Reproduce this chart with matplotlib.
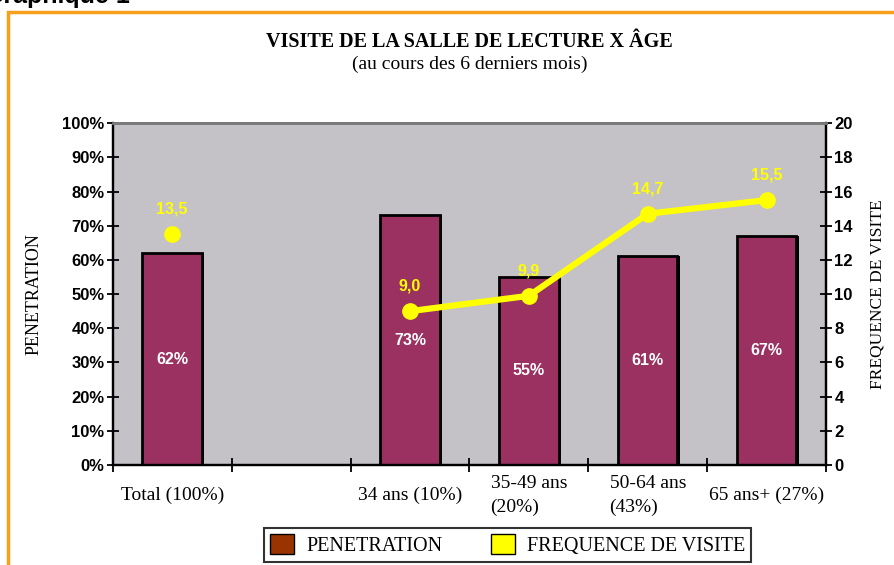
import numpy as np
import matplotlib
matplotlib.use("Agg")
import matplotlib.pyplot as plt
from matplotlib.patches import Rectangle, Patch

categories = ["Total (100%)", "", "34 ans (10%)", "35-49 ans\n(20%)", "50-64 ans\n(43%)", "65 ans+ (27%)"]
penetration = [62, np.nan, 73, 55, 61, 67]
frequence = [13.5, np.nan, 9.0, 9.9, 14.7, 15.5]
y_left_ticks = [0, 10, 20, 30, 40, 50, 60, 70, 80, 90, 100]
y_right_ticks = [0, 2, 4, 6, 8, 10, 12, 14, 16, 18, 20]

serif = "Liberation Serif"
sans = "Liberation Sans"

fig = plt.figure(figsize=(8.95, 5.65), dpi=100)
ax = fig.add_axes([0.126, 0.177, 0.797, 0.605])
ax2 = ax.twinx()

x = np.arange(len(categories))

# bars, with a small dark shadow on the right side
for xi, v in zip(x, penetration):
    if np.isnan(v):
        continue
    ax.bar(xi + 0.02, v, width=0.5, color="black", linewidth=0, zorder=1.5)
    ax.bar(xi, v, width=0.5, color="#9B3160", edgecolor="black", linewidth=2, zorder=2)
    ax.text(xi, v / 2, "%d%%" % v, color="white", fontweight="bold", fontfamily=sans,
            fontsize=11.5, ha="center", va="center", zorder=3)

# line (gap at empty slot)
ax2.plot(x, frequence, color="#FFFF00", linewidth=4.5, marker="o", markersize=11, zorder=4)
for xi, v in zip(x, frequence):
    if np.isnan(v):
        continue
    ax2.text(xi, v + 1.45, ("%.1f" % v).replace(".", ","), color="#FFFF00", fontweight="bold",
             fontfamily=sans, fontsize=11.5, ha="center", va="center", zorder=5)

ax.set_xlim(-0.5, len(categories) - 0.5)
ax.set_ylim(0, 100)
ax2.set_ylim(0, 20)
ax.set_facecolor("#C4C2C6")
ax.set_zorder(ax2.get_zorder() - 1)
ax2.patch.set_visible(False)

ax.set_yticks(y_left_ticks)
ax.set_yticklabels(["%d%%" % t for t in y_left_ticks], fontfamily=sans, fontweight="bold", fontsize=12)
ax2.set_yticks(y_right_ticks)
ax2.set_yticklabels([str(t) for t in y_right_ticks], fontfamily=sans, fontweight="bold", fontsize=12)
ax.tick_params(axis="y", direction="inout", length=8, width=1.3, pad=2)
ax2.tick_params(axis="y", direction="inout", length=8, width=1.3, pad=2)

ax.set_xticks(x)
ax.set_xticklabels(categories, fontfamily=serif, fontsize=14, va="center", multialignment="left",
                   linespacing=1.45)
ax.tick_params(axis="x", which="major", length=0, pad=22)
ax.set_xticks(np.arange(len(categories) + 1) - 0.5, minor=True)
ax.tick_params(axis="x", which="minor", direction="inout", length=10, width=1.3)

for a in (ax, ax2):
    a.spines["top"].set_color("#7A7A7A")
    a.spines["top"].set_linewidth(2)
    a.spines["left"].set_linewidth(1.6)
    a.spines["right"].set_linewidth(1.6)
    a.spines["bottom"].set_linewidth(1.6)

ax.set_ylabel("PENETRATION", fontfamily=serif, fontsize=13, labelpad=14)
ax2.set_ylabel("FREQUENCE DE VISITE", fontfamily=serif, fontsize=12.5, rotation=90, labelpad=12)

fig.text(0.525, 0.926, "VISITE DE LA SALLE DE LECTURE X ÂGE", fontfamily=serif, fontweight="bold",
         fontsize=14.5, ha="center", va="center")
fig.text(0.525, 0.886, "(au cours des 6 derniers mois)", fontfamily=serif, fontsize=14,
         ha="center", va="center")
fig.text(-0.018, 0.995, "Graphique 1", fontfamily=sans, fontweight="bold", fontsize=18,
         ha="left", va="baseline")

# orange frame
fig.patches.append(Rectangle((0.009, -0.05), 1.1, 1.028, transform=fig.transFigure,
                             fill=False, edgecolor="#F7A01C", linewidth=2.5))

handles = [Patch(facecolor="#993300", edgecolor="black", label="PENETRATION"),
           Patch(facecolor="#FFFF00", edgecolor="black", label="FREQUENCE DE VISITE")]
leg = fig.legend(handles=handles, loc="center", bbox_to_anchor=(0.567, 0.035), ncol=2,
                 prop={"family": serif, "size": 14.5}, frameon=True, fancybox=False,
                 handlelength=1.2, handleheight=1.1, handletextpad=0.6, columnspacing=2.4,
                 borderpad=0.3, borderaxespad=0.2)
leg.get_frame().set_edgecolor("black")
leg.get_frame().set_linewidth(1.5)

fig.savefig("out.png", dpi=100)
